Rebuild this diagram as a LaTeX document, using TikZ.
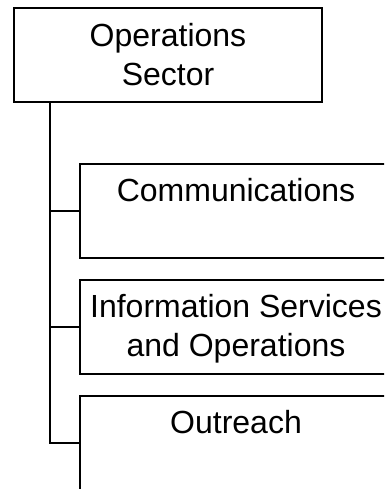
\documentclass[tikz,border=0pt]{standalone}
\usepackage{fontspec}
\setmainfont{Liberation Sans}
\usetikzlibrary{positioning}

\begin{document}
\begin{tikzpicture}[x=1pt,y=1pt,-,node distance=22pt,
                    box node/.style={rectangle,draw,line width=2pt,outer sep=0pt,
                      minimum width=308pt,minimum height=94pt,align=center,
                      text depth=7pt,font=\fontsize{32}{39}\selectfont},
                    elbow/.style={to path={|- (\tikztotarget)}}]

  \useasboundingbox (0,0) rectangle (384,-489);
  \clip (0,0) rectangle (384,-489);

  \node[box node] (ops) at (168,-55.5) {\strut Operations\\\strut Sector};
  \node[box node,minimum width=312pt] (comm) [below right=61.5pt and 66pt of ops.south west] {\strut Communications\\\strut};
  \node[box node,minimum width=312pt] (info) [below=of comm] {\strut Information Services\\\strut and Operations};
  \node[box node,minimum width=312pt] (outr) [below=of info] {\strut Outreach\\\strut};

  \coordinate[right=36pt of ops.south west] (trunk);

  \path[line width=2pt]
  (trunk) edge[elbow] (comm.west)
  (trunk) edge[elbow] (info.west)
  (trunk) edge[elbow] (outr.west);

\end{tikzpicture}
\end{document}
